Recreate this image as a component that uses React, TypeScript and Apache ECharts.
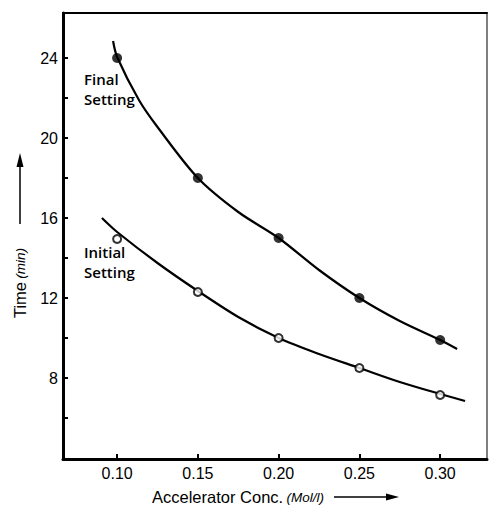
import React, { useEffect, useRef } from "react";
import * as echarts from "echarts";

// Measured data points
const concentrations = [0.10, 0.15, 0.20, 0.25, 0.30];
const finalSetting = [24.0, 18.0, 15.0, 12.0, 9.9];
const initialSetting = [14.95, 12.3, 10.0, 8.5, 7.15];

// Fitted curves
const finalCurveX = [0.0975, 0.10, 0.1135, 0.125, 0.15, 0.175, 0.20, 0.225, 0.25, 0.275, 0.30, 0.3105];
const finalCurveY = [24.85, 24.05, 21.9, 20.55, 18.0, 16.3, 15.0, 13.4, 12.0, 10.85, 9.9, 9.45];
const initialCurveX = [0.0906, 0.10, 0.125, 0.15, 0.175, 0.20, 0.225, 0.25, 0.275, 0.30, 0.3154];
const initialCurveY = [16.0, 15.3, 13.75, 12.35, 11.05, 10.0, 9.2, 8.5, 7.8, 7.2, 6.85];

// Axis ticks
const xTickValues = [0.10, 0.15, 0.20, 0.25, 0.30];
const yLabelValues = [8, 12, 16, 20, 24];
const yTickValues = [6, 8, 10, 12, 14, 16, 18, 20, 22, 24];

const FONT = "'Liberation Sans', Arial, Helvetica, sans-serif";
const ANNOT_FONT = "'Open Sans', 'Noto Sans', sans-serif";

export default function App() {
  const ref = useRef<HTMLDivElement>(null);

  useEffect(() => {
    if (!ref.current) return;
    const chart = echarts.init(ref.current, null, { renderer: "svg" });

    const pair = (xs: number[], ys: number[]) => xs.map((x, i) => [x, ys[i]]);

    const option: any = {
      animation: false,
      backgroundColor: "#fff",
      grid: { left: 63, right: 2, top: 13, bottom: 49, show: false },
      xAxis: [
        {
          type: "value",
          min: 0.0665,
          max: 0.329,
          position: "bottom",
          axisLine: { show: true, onZero: false, lineStyle: { color: "#000", width: 3 } },
          axisTick: {
            show: true,
            inside: true,
            length: 5,
            customValues: xTickValues,
            lineStyle: { color: "#000", width: 2 },
          },
          axisLabel: {
            show: true,
            customValues: xTickValues,
            formatter: (v: number) => v.toFixed(2),
            color: "#000",
            fontSize: 16,
            fontFamily: FONT,
            margin: 6,
          },
          splitLine: { show: false },
        },
        {
          type: "value",
          min: 0.0665,
          max: 0.329,
          position: "top",
          axisLine: { show: true, onZero: false, lineStyle: { color: "#000", width: 2 } },
          axisTick: { show: false },
          axisLabel: { show: false },
          splitLine: { show: false },
        },
      ],
      yAxis: [
        {
          type: "value",
          min: 3.95,
          max: 26.25,
          position: "left",
          axisLine: { show: true, onZero: false, lineStyle: { color: "#000", width: 3 } },
          axisTick: {
            show: true,
            inside: true,
            length: 5,
            customValues: yTickValues,
            lineStyle: { color: "#000", width: 2 },
          },
          axisLabel: {
            show: true,
            customValues: yLabelValues,
            color: "#000",
            fontSize: 16,
            fontFamily: FONT,
            margin: 5,
          },
          splitLine: { show: false },
        },
        {
          type: "value",
          min: 3.95,
          max: 26.25,
          position: "right",
          axisLine: { show: true, onZero: false, lineStyle: { color: "#555", width: 1.5 } },
          axisTick: { show: false },
          axisLabel: { show: false },
          splitLine: { show: false },
        },
      ],
      series: [
        {
          name: "Final Setting curve",
          type: "line",
          data: pair(finalCurveX, finalCurveY),
          smooth: 0.3,
          symbol: "none",
          lineStyle: { color: "#000", width: 2.2 },
          z: 2,
        },
        {
          name: "Initial Setting curve",
          type: "line",
          data: pair(initialCurveX, initialCurveY),
          smooth: 0.3,
          symbol: "none",
          lineStyle: { color: "#000", width: 2.2 },
          z: 2,
        },
        {
          name: "Final Setting",
          type: "scatter",
          data: pair(concentrations, finalSetting),
          symbol: "circle",
          symbolSize: 10,
          itemStyle: { color: "#000" },
          z: 3,
        },
        {
          name: "Initial Setting",
          type: "scatter",
          data: pair(concentrations, initialSetting),
          symbol: "circle",
          symbolSize: 8,
          itemStyle: { color: "#fff", borderColor: "#000", borderWidth: 2 },
          z: 3,
        },
      ],
      graphic: [
        {
          type: "text",
          left: 84,
          top: 69,
          style: {
            text: "Final\nSetting",
            font: `600 15px ${ANNOT_FONT}`,
            fill: "#000",
            lineHeight: 20,
          },
        },
        {
          type: "text",
          left: 84,
          top: 242,
          style: {
            text: "Initial\nSetting",
            font: `600 15px ${ANNOT_FONT}`,
            fill: "#000",
            lineHeight: 20,
          },
        },
        {
          type: "text",
          x: 152,
          y: 497,
          style: {
            text: "{a|Accelerator Conc.} {b|(Mol/l)}",
            verticalAlign: "middle",
            align: "left",
            rich: {
              a: { fontSize: 16.5, fontFamily: FONT, fill: "#000", color: "#000" },
              b: { fontSize: 13.5, fontFamily: FONT, fontStyle: "italic", fill: "#000", color: "#000" },
            },
          },
        },
        {
          type: "line",
          shape: { x1: 334, y1: 497, x2: 390, y2: 497 },
          style: { stroke: "#000", lineWidth: 1.5 },
        },
        {
          type: "polygon",
          shape: { points: [[399, 497], [386, 493.5], [386, 500.5]] },
          style: { fill: "#000" },
        },
        {
          type: "text",
          x: 20,
          y: 283,
          rotation: Math.PI / 2,
          style: {
            text: "{a|Time} {b|(min)}",
            verticalAlign: "middle",
            align: "center",
            rich: {
              a: { fontSize: 16.5, fontFamily: FONT, fill: "#000", color: "#000" },
              b: { fontSize: 13.5, fontFamily: FONT, fontStyle: "italic", fill: "#000", color: "#000" },
            },
          },
        },
        {
          type: "line",
          shape: { x1: 20, y1: 224, x2: 20, y2: 165 },
          style: { stroke: "#000", lineWidth: 1.5 },
        },
        {
          type: "polygon",
          shape: { points: [[20, 153], [16.5, 167], [23.5, 167]] },
          style: { fill: "#000" },
        },
      ],
    };

    chart.setOption(option);
    return () => chart.dispose();
  }, []);

  return (
    <div
      ref={ref}
      style={{ position: "absolute", left: 0, top: 0, width: 489, height: 508 }}
    />
  );
}
